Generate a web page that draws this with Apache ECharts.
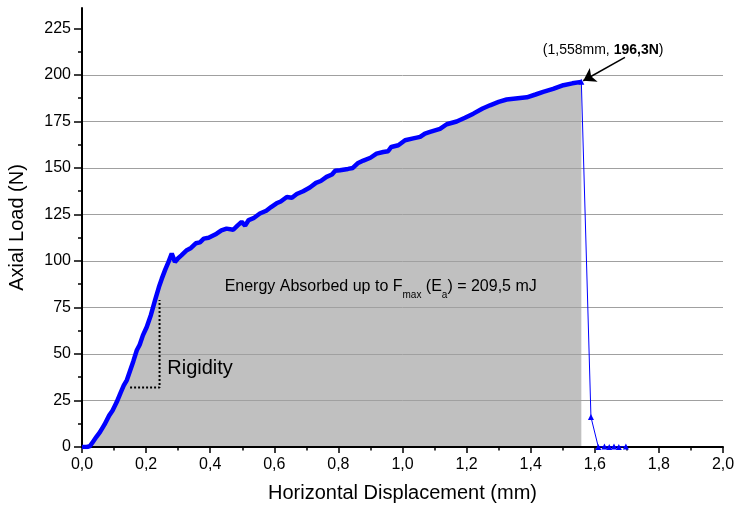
<!DOCTYPE html>
<html>
<head>
<meta charset="utf-8">
<script src="https://cdn.jsdelivr.net/npm/echarts@6/dist/echarts.min.js"></script>
<style>
  html, body { margin: 0; padding: 0; background: #fff; }
  #chart { width: 736px; height: 508px; }
</style>
</head>
<body>
<div id="chart"></div>
<script>
// load curve up to Fmax
const displacement = [0.000, 0.015, 0.025, 0.035, 0.045, 0.056, 0.070, 0.085, 0.095, 0.108,
  0.120, 0.130, 0.140, 0.150, 0.160, 0.171, 0.180, 0.190, 0.202, 0.215,
  0.228, 0.240, 0.249, 0.260, 0.270, 0.280, 0.290, 0.300, 0.310, 0.327,
  0.340, 0.355, 0.368, 0.380, 0.395, 0.420, 0.435, 0.451, 0.472, 0.485,
  0.498, 0.509, 0.520, 0.535, 0.555, 0.575, 0.590, 0.607, 0.620, 0.639,
  0.655, 0.670, 0.690, 0.711, 0.730, 0.745, 0.763, 0.780, 0.790, 0.805,
  0.830, 0.845, 0.860, 0.878, 0.900, 0.919, 0.940, 0.955, 0.965, 0.987,
  1.008, 1.030, 1.055, 1.070, 1.086, 1.117, 1.138, 1.169, 1.195, 1.221,
  1.250, 1.273, 1.300, 1.325, 1.360, 1.388, 1.415, 1.439, 1.470, 1.502,
  1.530, 1.558];
const load = [0, 0, 0.5, 3, 5.5, 8, 12, 17, 19.5, 24,
  29, 33, 36, 41, 46, 52, 55, 60, 64.5, 71,
  79, 86, 90.5, 95.5, 99.5, 104, 99.5, 101.5, 103, 105.8,
  107, 109.5, 110, 112, 112.5, 114.7, 116.5, 117.4, 116.8, 119,
  121, 119, 122, 123, 125.5, 127, 129, 131, 132, 134.4,
  134, 136, 137.5, 139.5, 142, 143, 145.2, 146.5, 148.5, 148.8,
  149.5, 150, 152.5, 154, 155.5, 157.7, 158.6, 159, 161.3, 162.2,
  164.9, 165.8, 166.7, 168.5, 169.4, 171, 173.5, 175, 177, 179.2,
  182, 183.7, 185.5, 186.8, 187.5, 188, 189.5, 190.9, 192.5, 194.5,
  195.5, 196.3];

// after failure
const tailDisplacement = [1.558, 1.588, 1.611, 1.630, 1.645, 1.660, 1.675, 1.697];
const tailLoad = [196.3, 16.1, 0, 0.3, 0, 0.3, 0, 0.3];

// rigidity triangle (dotted)
const rigidityX = [0.150, 0.242, 0.242];
const rigidityY = [32, 32, 79];

const xTicks = [0, 0.2, 0.4, 0.6, 0.8, 1.0, 1.2, 1.4, 1.6, 1.8, 2.0];
const yTicks = [0, 25, 50, 75, 100, 125, 150, 175, 200, 225];
const yMinorTicks = [12.5, 37.5, 62.5, 87.5, 112.5, 137.5, 162.5, 187.5, 212.5];

const FONT = 'Liberation Sans, Arial, sans-serif';

const zip = (xs, ys) => xs.map((x, i) => [x, ys[i]]);
const curve = zip(displacement, load);
const peak = curve[curve.length - 1];

const chart = echarts.init(document.getElementById('chart'));
chart.setOption({
  animation: false,
  backgroundColor: '#fff',
  textStyle: { fontFamily: FONT },
  grid: { left: 82, right: 13, top: 8, bottom: 61, outerBoundsMode: 'none' },
  xAxis: {
    type: 'value',
    min: 0,
    max: 2,
    interval: 0.2,
    z: 2,
    name: 'Horizontal Displacement (mm)',
    nameLocation: 'middle',
    nameGap: 36,
    nameTextStyle: { fontSize: 20, color: '#000', fontFamily: FONT },
    axisLine: { onZero: false, lineStyle: { color: '#000', width: 2 } },
    axisTick: { length: 6, lineStyle: { color: '#000', width: 1.5 }, customValues: xTicks },
    minorTick: { show: true, splitNumber: 2, length: 3.5, lineStyle: { color: '#000', width: 1.5 } },
    axisLabel: {
      customValues: xTicks,
      fontSize: 16, color: '#000', margin: 10, fontFamily: FONT,
      formatter: v => v.toFixed(1).replace('.', ',')
    },
    splitLine: { show: false }
  },
  yAxis: [{
    type: 'value',
    min: 0,
    max: 236,
    interval: 25,
    z: 2,
    name: 'Axial Load (N)',
    nameLocation: 'middle',
    nameGap: 55,
    nameTextStyle: { fontSize: 20, color: '#000', fontFamily: FONT },
    axisLine: { onZero: false, lineStyle: { color: '#000', width: 2 } },
    axisTick: { length: 8, lineStyle: { color: '#000', width: 1.5 }, customValues: yTicks },
    axisLabel: { customValues: yTicks, fontSize: 16, color: '#000', margin: 11, fontFamily: FONT },
    splitLine: { show: true, showMinLine: false, showMaxLine: false, lineStyle: { color: '#a0a0a0', width: 1 } }
  }, {
    // minor ticks only
    type: 'value',
    min: 0,
    max: 236,
    position: 'left',
    z: 2,
    axisLine: { show: false },
    axisTick: { length: 4, lineStyle: { color: '#000', width: 1.5 }, customValues: yMinorTicks },
    axisLabel: { show: false },
    splitLine: { show: false }
  }],
  series: [
    {
      // gray energy area
      type: 'line',
      z: 1,
      data: curve,
      symbol: 'none',
      lineStyle: { width: 0 },
      areaStyle: { color: '#c0c0c0', opacity: 1 },
      silent: true
    },
    {
      type: 'line',
      z: 3,
      data: curve,
      symbol: 'none',
      lineStyle: { color: '#0000ff', width: 4.5 },
      markPoint: {
        silent: true,
        symbol: 'circle',
        symbolSize: 0,
        data: [
          {
            coord: [1.626, 213.3],
            label: {
              show: true, position: 'inside', color: '#000', fontSize: 14, fontFamily: FONT,
              formatter: '(1,558mm, {b|196,3N})',
              rich: { b: { fontWeight: 'bold', fontSize: 14, fontFamily: FONT, color: '#000' } }
            }
          },
          {
            coord: [0.932, 86],
            label: {
              show: true, position: 'inside', color: '#000', fontSize: 16, fontFamily: FONT,
              formatter: 'Energy Absorbed up to F{s|max} (E{s|a}) = 209,5 mJ',
              rich: { s: { fontSize: 10, fontFamily: FONT, color: '#000', padding: [16, 0, 0, 0] } }
            }
          }
        ]
      }
    },
    {
      type: 'line',
      z: 3,
      data: zip(tailDisplacement, tailLoad),
      symbol: 'triangle',
      symbolSize: 6,
      itemStyle: { color: '#0000ff' },
      lineStyle: { color: '#0000ff', width: 1 }
    },
    {
      type: 'line',
      z: 3,
      data: zip(rigidityX, rigidityY),
      symbol: 'none',
      lineStyle: { color: '#000', width: 2, type: [2, 2] },
      markPoint: {
        silent: true,
        symbol: 'circle',
        symbolSize: 0,
        data: [{
          coord: [0.266, 42.2],
          label: {
            show: true, position: 'inside', align: 'left', verticalAlign: 'middle',
            color: '#000', fontSize: 20, fontFamily: FONT, formatter: 'Rigidity'
          }
        }]
      }
    },
    {
      // pointer to Fmax
      type: 'line',
      z: 4,
      data: [],
      markLine: {
        silent: true,
        symbol: ['none', 'arrow'],
        symbolSize: 12,
        itemStyle: { color: '#000' },
        lineStyle: { color: '#000', width: 1.5, type: 'solid' },
        label: { show: false },
        data: [[{ coord: [1.694, 209.5] }, { coord: [peak[0] + 0.006, peak[1] + 0.6] }]]
      }
    }
  ]
});
</script>
</body>
</html>
